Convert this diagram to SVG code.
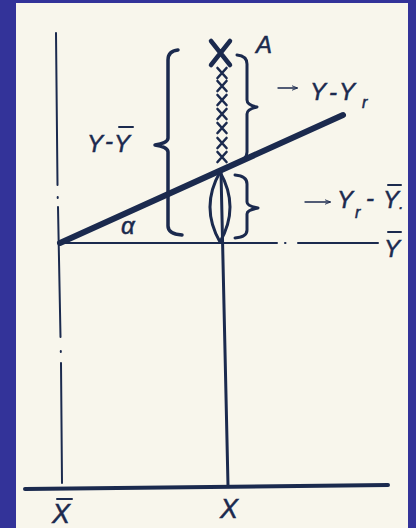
<svg xmlns="http://www.w3.org/2000/svg" width="416" height="528" viewBox="0 0 416 528">
<defs>
<style>
.ink{stroke:#1b2a4e;fill:none;stroke-linecap:round;stroke-linejoin:round}
.t{font-family:"Liberation Sans",Arial,sans-serif;font-style:italic;fill:#1b2a4e;stroke:#1b2a4e;stroke-width:0.5;font-size:24px}
.sub{font-size:16px}
.big{font-size:27px}
</style>
<marker id="ah" viewBox="0 0 10 10" refX="9" refY="5" markerWidth="6" markerHeight="6" markerUnits="userSpaceOnUse" orient="auto">
<path d="M0,1 L10,5 L0,9" fill="none" stroke="#1b2a4e" stroke-width="1.5"/>
</marker>
</defs>
<rect x="0" y="0" width="416" height="528" fill="#333399"/>
<rect x="16" y="3" width="392" height="525" fill="#f8f6ec"/>

<g id="axes">
<path class="ink" stroke-width="4" d="M25,489 L388,485"/>
<path class="ink" stroke-width="2" d="M56,33 L57.5,185 M57.7,197 L57.7,198 M58,207 L60.5,337 M60.8,351 L60.8,352 M61,363 L62,483"/>
<path class="ink" stroke-width="2" d="M60,243 L277,243 M285,243 L285.5,243 M298,243 L378,243"/>
</g>

<g id="connectors">
<path class="ink" stroke-width="3" d="M221,172 L228,485"/>
<path class="ink" stroke-width="6" d="M60,243 L343,115"/>
<line class="ink" stroke-width="1.3" x1="278" y1="88" x2="297" y2="88" marker-end="url(#ah)"/>
<line class="ink" stroke-width="1.3" x1="305" y1="202" x2="330" y2="202" marker-end="url(#ah)"/>
</g>

<g id="points">
<path class="ink" stroke-width="4.5" d="M211,41 L230,65 M230,41 L211,65"/>
<path class="ink" stroke-width="2.6" d="M217.5,68 L226.5,78 M226.5,68 L217.5,78 M217.5,81 L226.5,91 M226.5,81 L217.5,91 M217.5,95 L226.5,105 M226.5,95 L217.5,105 M217.5,109 L226.5,119 M226.5,109 L217.5,119 M217.5,123 L226.5,133 M226.5,123 L217.5,133 M217.5,138 L226.5,148 M226.5,138 L217.5,148 M217.5,152 L226.5,162 M226.5,152 L217.5,162"/>
<path class="ink" stroke-width="3" d="M220,172 Q200,207 220,242 M220,172 Q240,207 220,242"/>
</g>

<g id="braces">
<path class="ink" stroke-width="3" d="M237,55 Q247,56 247,64 L247,100 Q247,105 257,107 Q247,109 247,114 L247,152 Q247,160 237,162"/>
<path class="ink" stroke-width="3" d="M235,175 Q247,176 247,184 L247,202 Q247,206 258,208 Q247,210 247,214 L247,230 Q247,237 235,238"/>
<path class="ink" stroke-width="3.5" d="M178,50 Q168,51 168,60 L168,138 Q168,143 155,145 Q168,147 168,152 L168,226 Q168,234 182,235"/>
</g>

<g id="labels">
<text class="t" x="256" y="53">A</text>
<text class="t" y="100"><tspan x="310">Y</tspan><tspan x="329">-</tspan><tspan x="339">Y</tspan><tspan class="sub" x="362" y="108">r</tspan></text>
<text class="t" y="208"><tspan x="337">Y</tspan><tspan class="sub" x="355" y="218">r</tspan><tspan x="366" y="206">-</tspan><tspan x="383" y="208">Y</tspan><tspan class="sub" x="399" y="209">.</tspan></text>
<line class="ink" stroke-width="2" x1="388" y1="185" x2="401" y2="185"/>
<text class="t" x="384" y="257">Y</text>
<line class="ink" stroke-width="2" x1="388" y1="232" x2="401" y2="232"/>
<text class="t" y="152"><tspan x="87">Y</tspan><tspan x="105" y="149">-</tspan><tspan x="114" y="152">Y</tspan></text>
<line class="ink" stroke-width="2" x1="119" y1="127" x2="133" y2="127"/>
<text class="t" x="121" y="234" font-size="20">α</text>
<text class="t big" x="52" y="523">X</text>
<line class="ink" stroke-width="2" x1="57" y1="499" x2="72" y2="499"/>
<text class="t big" x="220" y="518">X</text>
</g>
</svg>
